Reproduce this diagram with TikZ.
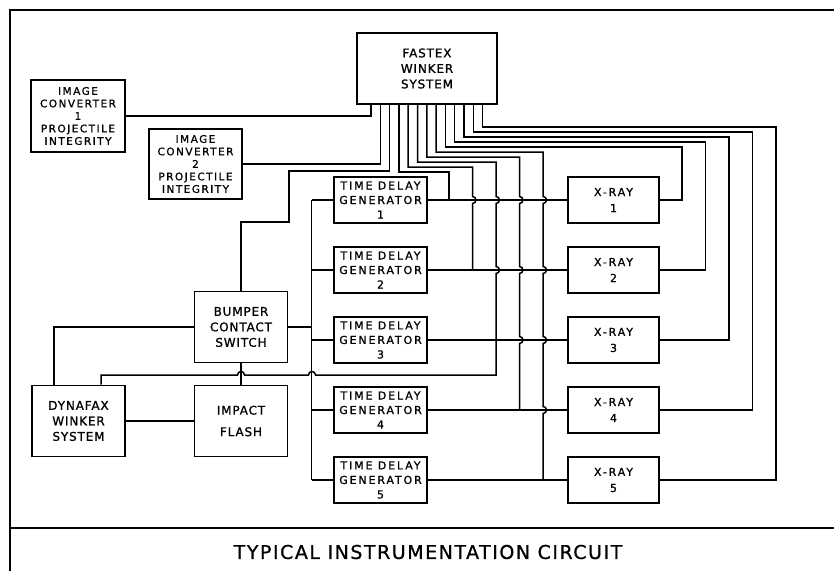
\documentclass[tikz,border=0pt]{standalone}
\usepackage{fontspec}
\newfontfamily\smalllet[LetterSpace=14,FakeBold=1]{DejaVu Sans}
\newfontfamily\widelet[LetterSpace=17,FakeBold=1]{DejaVu Sans}
\newfontfamily\biglet[LetterSpace=7,FakeBold=1]{DejaVu Sans}
\newfontfamily\titlelet[LetterSpace=8,FakeBold=0.8]{DejaVu Sans}

\begin{document}
\begin{tikzpicture}[x=1pt,y=-1pt,line width=1.5pt,
  blk/.style={draw,line width=1.6pt,align=center,inner sep=0pt,
    font=\smalllet\fontsize{10.5}{12.5}\selectfont},
  tdg/.style={blk,minimum width=93pt,minimum height=46pt,
    font=\widelet\fontsize{11}{14.5}\selectfont},
  xray/.style={blk,minimum width=91pt,minimum height=46pt,
    font=\widelet\fontsize{11}{16}\selectfont},
  unit/.style={blk,minimum width=93pt,minimum height=71pt,
    font=\biglet\fontsize{12}{15.5}\selectfont}]
  \useasboundingbox (0,0) rectangle (834,571);

  % frame and title
  \draw (10,571) -- (10,10) -- (834,10);
  \draw (10,528) -- (834,528);
  \node[font=\titlelet\fontsize{19}{19}\selectfont] (title) at (428,552) {TYPICAL INSTRUMENTATION CIRCUIT};

  % units
  \node[unit,minimum width=140pt] (fastex) at (427,68.5) {FASTEX\\WINKER\\SYSTEM};
  \node[blk,minimum width=94pt,minimum height=72pt] (ic1) at (78,116) {IMAGE\\CONVERTER\\1\\PROJECTILE\\INTEGRITY};
  \node[blk,minimum width=93pt,minimum height=70pt] (ic2) at (195.5,164) {IMAGE\\CONVERTER\\2\\PROJECTILE\\INTEGRITY};
  \node[unit] (bumper) at (241,327) {BUMPER\\CONTACT\\SWITCH};
  \node[unit] (dynafax) at (78.5,421) {DYNAFAX\\WINKER\\SYSTEM};
  \node[unit] (impact) at (241,421) {IMPACT\\[6pt]FLASH};

  \foreach \i in {1,...,5}{
    \node[tdg] (tdg\i) at (380.5,130+70*\i) {TIME DELAY\\GENERATOR\\\i};
    \node[xray] (xr\i) at (613.5,130+70*\i) {X-RAY\\\i};
    \draw (tdg\i.east) -- (xr\i.west);
    \draw (tdg\i.west) -- ++(-21.5,0) coordinate (bus\i);
  }

  % taps under FASTEX
  \foreach \n in {1,...,13}
    \coordinate (f\n) at (361.7+9.3*\n,104);

  \draw (bus1) -- (bus5);
  \draw (bumper.east) -- (bumper.east -| bus1);
  \draw (ic1.east) -| (f1);
  \draw (ic2.east) -| (f2);
  \draw (f3) |- (289,171) |- (241,222) -- (bumper.north);
  \draw (bumper.west) -| ([xshift=23pt]dynafax.north west);
  \draw (dynafax.east) -- (impact.west);
  \draw (bumper.south) -- (impact.north);

  % delay generator lines
  \draw (f4) |- (449,172) -- (449,200) coordinate (j1);
  \foreach \i [evaluate=\i as \x using 449+23.5*(\i-1),
               evaluate=\i as \lvl using 172-5*(\i-1),
               evaluate=\i as \n using int(\i+3),
               evaluate=\i as \im using int(\i-1)] in {2,...,5}
    \draw (f\n) |- (\x,\lvl)
      \foreach \j in {1,...,\im}{ -- (\x,126.5+70*\j) arc[start angle=-90,end angle=90,radius=3.5] }
      -- (\x,130+70*\i) coordinate (j\i);
  \draw (j3) -- ++(0,35) -- (315.5,375) arc[start angle=0,end angle=-180,radius=3.5]
    -- (244.5,375) arc[start angle=0,end angle=-180,radius=3.5]
    -| ([xshift=70pt]dynafax.north west);

  % x-ray lines
  \foreach \i [evaluate=\i as \x using 682+23.5*(\i-1),
               evaluate=\i as \lvl using 147-5*(\i-1),
               evaluate=\i as \n using int(\i+8)] in {1,...,5}
    \draw (xr\i.east) -| (\x,\lvl) -| (f\n);
\end{tikzpicture}
\end{document}
